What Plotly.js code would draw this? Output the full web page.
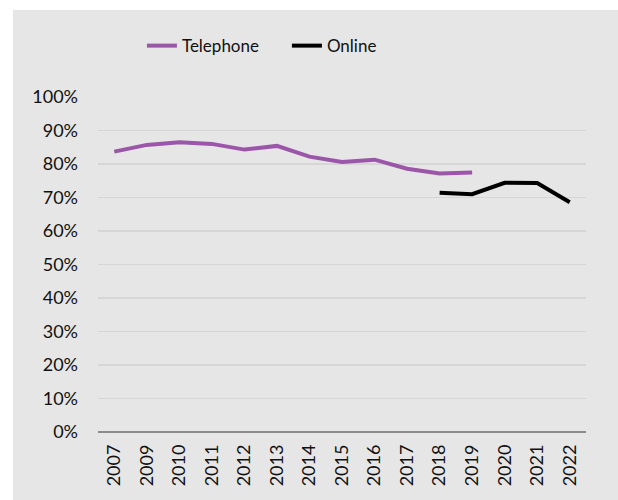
<!DOCTYPE html>
<html>
<head>
<meta charset="utf-8">
<script src="https://cdn.plot.ly/plotly-3.0.1.min.js"></script>
<style>
html,body{margin:0;padding:0;background:#ffffff;}
#chart{position:absolute;left:13px;top:10px;width:605px;height:490px;}
</style>
</head>
<body>
<div id="chart"></div>
<script>
const years = ["2007","2009","2010","2011","2012","2013","2014","2015","2016","2017","2018","2019","2020","2021","2022"];
const telephone = [0.837,0.857,0.865,0.860,0.843,0.854,0.822,0.806,0.813,0.786,0.772,0.775,null,null,null];
const online = [null,null,null,null,null,null,null,null,null,null,0.714,0.710,0.744,0.743,0.686];

const traces = [
  {x: years, y: telephone, name: "Telephone", type: "scatter", mode: "lines",
   line: {color: "#9b55a9", width: 4}, connectgaps: false},
  {x: years, y: online, name: "Online", type: "scatter", mode: "lines",
   line: {color: "#000000", width: 4}, connectgaps: false}
];

const layout = {
  width: 605, height: 490,
  paper_bgcolor: "#e6e6e6", plot_bgcolor: "#e6e6e6",
  margin: {l: 85, r: 32, t: 87, b: 68},
  font: {family: "Lato, 'Open Sans', sans-serif", size: 17, color: "#111111"},
  showlegend: true,
  legend: {orientation: "h", x: 0.09, xanchor: "left", y: 1.152, yanchor: "middle",
           bgcolor: "rgba(0,0,0,0)", font: {size: 17, color: "#111111"},
           entrywidth: 100, entrywidthmode: "pixels"},
  xaxis: {type: "category", range: [-0.5, 14.5], tickangle: -90, showgrid: false, zeroline: false,
          showline: false, ticks: "", tickfont: {size: 18}, ticklabelstandoff: 8, fixedrange: true},
  yaxis: {range: [0, 1], dtick: 0.1, tickformat: ".0%", showgrid: true,
          gridcolor: "#d6d6d6", gridwidth: 1.5, zeroline: true, zerolinecolor: "#8c8c8c",
          zerolinewidth: 2, showline: false, ticks: "", ticklen: 0, ticklabelstandoff: 19,
          tickfont: {size: 18}, fixedrange: true}
};

Plotly.newPlot("chart", traces, layout, {displayModeBar: false, staticPlot: true});
</script>
</body>
</html>
